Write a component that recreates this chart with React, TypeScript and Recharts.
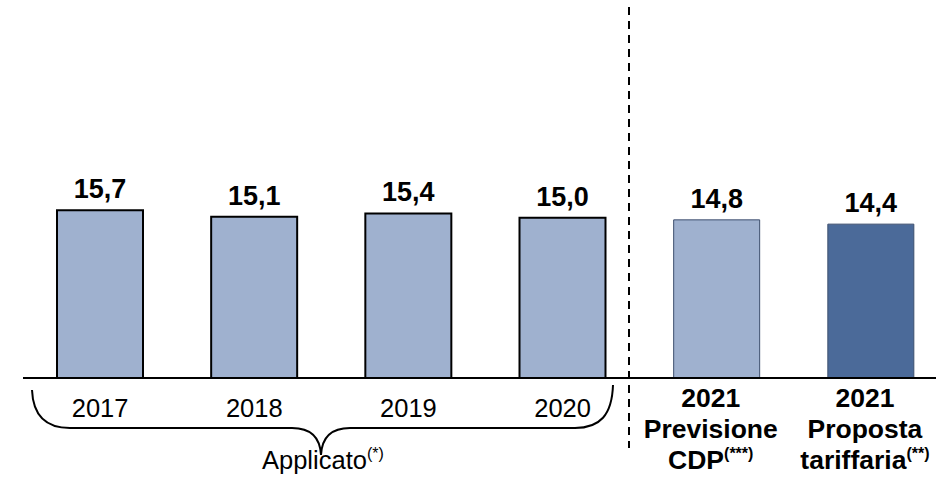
import { BarChart, Bar, XAxis, YAxis, Cell, LabelList } from "recharts";

const categories = ["2017", "2018", "2019", "2020", "2021 Previsione CDP", "2021 Proposta tariffaria"];
const values = [15.7, 15.1, 15.4, 15.0, 14.8, 14.4];
// tick labels: main text lines + optional superscript on last line
const tickLines = [["2017"], ["2018"], ["2019"], ["2020"], ["2021", "Previsione", "CDP"], ["2021", "Proposta", "tariffaria"]];
const tickSup = ["", "", "", "", "(***)", "(**)"];
const groupLabel = "Applicato";
const groupSup = "(*)";

const LIGHT = "#9fb1cf";
const DARK = "#4b6a99";
const FONT = "'Liberation Sans', Arial, sans-serif";

const data = categories.map((c, i) => ({ name: c, value: values[i] }));

function Tick(props: any) {
  const { x, y, payload } = props;
  const i = payload.index;
  const lines = tickLines[i];
  if (lines.length === 1) {
    return (
      <text x={x} y={y + 37} textAnchor="middle" fontSize={25.5} fontFamily={FONT} fill="#000">
        {lines[0]}
      </text>
    );
  }
  return (
    <g>
      {lines.map((l, k) => (
        <text
          key={k}
          x={x - 6}
          y={y + 27 + k * 31}
          textAnchor="middle"
          fontSize={26.5}
          fontWeight="bold"
          fontFamily={FONT}
          fill="#000"
        >
          {l}
          {k === lines.length - 1 && tickSup[i] ? (
            <tspan fontSize={16} dy={-10}>{tickSup[i]}</tspan>
          ) : null}
        </text>
      ))}
    </g>
  );
}

export default function App() {
  return (
    <div style={{ position: "absolute", left: 0, top: 0, width: 936, height: 494, overflow: "hidden", background: "#fff" }}>
      <BarChart width={948} height={494} data={data} margin={{ top: 4, right: 0, left: 23, bottom: 0 }}>
        <XAxis
          dataKey="name"
          height={116}
          tickLine={false}
          tickSize={0}
          axisLine={{ stroke: "#000", strokeWidth: 2 }}
          interval={0}
          tick={<Tick />}
        />
        <YAxis hide domain={[0, 35]} />
        <Bar dataKey="value" barSize={86} isAnimationActive={false}>
          {data.map((d, i) => (
            <Cell
              key={d.name}
              fill={i === 5 ? DARK : LIGHT}
              stroke={i < 4 ? "#000" : "#3d4f6e"}
              strokeWidth={i < 4 ? 2 : 1}
            />
          ))}
          <LabelList
            dataKey="value"
            position="top"
            offset={12}
            formatter={(v: any) => Number(v).toFixed(1).replace(".", ",")}
            style={{ fontSize: 27, fontWeight: "bold", fontFamily: FONT, fill: "#000" }}
          />
        </Bar>
      </BarChart>
      <svg width={936} height={494} style={{ position: "absolute", left: 0, top: 0, pointerEvents: "none" }}>
        <line x1={629} y1={7} x2={629} y2={448} stroke="#000" strokeWidth={2} strokeDasharray="8 6" />
        <path
          d="M32,390 C33,415 45,428 70,428 L292,428 C310,428 320,436 321,455 C322,436 332,428 350,428 L575,428 C600,428 612,415 613,385"
          fill="none"
          stroke="#000"
          strokeWidth={2}
        />
        <text x={262} y={469} fontSize={25.5} fontFamily={FONT} fill="#000">
          {groupLabel}
          <tspan fontSize={16} dy={-10}>{groupSup}</tspan>
        </text>
      </svg>
    </div>
  );
}
